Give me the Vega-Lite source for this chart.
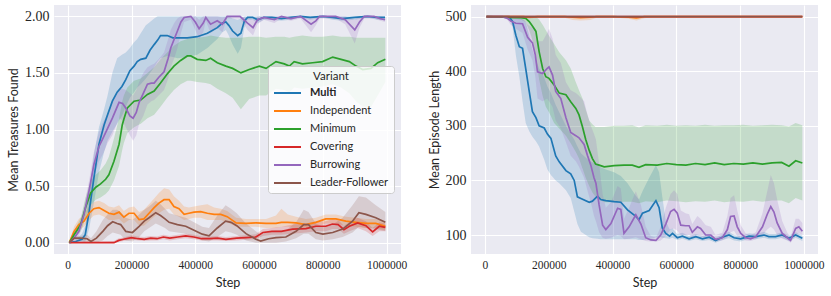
{
  "$schema": "https://vega.github.io/schema/vega-lite/v6.json",
  "background": "white",
  "padding": {"left": 7, "top": 5, "right": 2, "bottom": 4},
  "config": {
    "view": {"fill": "#EAEAF2", "stroke": null},
    "axis": {"domain": false, "ticks": false, "gridColor": "white", "gridWidth": 1.1, "labelFont": "Liberation Serif", "labelColor": "#262626", "titleFont": "Lato", "titleFontSize": 12.5, "titleFontWeight": "normal", "titleColor": "#262626", "labelPadding": 5, "labelFlush": false, "titlePadding": 4},
    "axisX": {"labelFontSize": 11.5, "titlePadding": 6},
    "axisY": {"labelFontSize": 14}
  },
  "datasets": {
    "left": [
      {"variant":"Multi","step":5000,"mean":0,"lo":0,"hi":0},
      {"variant":"Multi","step":25000,"mean":0.01,"lo":0,"hi":0.03},
      {"variant":"Multi","step":45000,"mean":0.03,"lo":0,"hi":0.08},
      {"variant":"Multi","step":55000,"mean":0.07,"lo":0.01,"hi":0.15},
      {"variant":"Multi","step":67000,"mean":0.27,"lo":0.12,"hi":0.42},
      {"variant":"Multi","step":82000,"mean":0.57,"lo":0.35,"hi":0.78},
      {"variant":"Multi","step":98000,"mean":0.87,"lo":0.62,"hi":1.02},
      {"variant":"Multi","step":114000,"mean":1.04,"lo":0.8,"hi":1.18},
      {"variant":"Multi","step":125000,"mean":1.13,"lo":0.9,"hi":1.3},
      {"variant":"Multi","step":140000,"mean":1.25,"lo":0.98,"hi":1.5},
      {"variant":"Multi","step":155000,"mean":1.33,"lo":1.05,"hi":1.63},
      {"variant":"Multi","step":170000,"mean":1.38,"lo":1.12,"hi":1.66},
      {"variant":"Multi","step":182000,"mean":1.44,"lo":1.2,"hi":1.68},
      {"variant":"Multi","step":195000,"mean":1.52,"lo":1.28,"hi":1.72},
      {"variant":"Multi","step":208000,"mean":1.56,"lo":1.33,"hi":1.77},
      {"variant":"Multi","step":218000,"mean":1.6,"lo":1.37,"hi":1.8},
      {"variant":"Multi","step":229000,"mean":1.62,"lo":1.4,"hi":1.85},
      {"variant":"Multi","step":245000,"mean":1.63,"lo":1.45,"hi":1.92},
      {"variant":"Multi","step":258000,"mean":1.7,"lo":1.5,"hi":1.95},
      {"variant":"Multi","step":271000,"mean":1.75,"lo":1.55,"hi":1.98},
      {"variant":"Multi","step":282000,"mean":1.79,"lo":1.6,"hi":2.0},
      {"variant":"Multi","step":291000,"mean":1.83,"lo":1.63,"hi":2.0},
      {"variant":"Multi","step":312000,"mean":1.83,"lo":1.65,"hi":2.0},
      {"variant":"Multi","step":330000,"mean":1.81,"lo":1.64,"hi":2.0},
      {"variant":"Multi","step":344000,"mean":1.81,"lo":1.63,"hi":2.0},
      {"variant":"Multi","step":375000,"mean":1.81,"lo":1.64,"hi":2.0},
      {"variant":"Multi","step":406000,"mean":1.82,"lo":1.66,"hi":2.0},
      {"variant":"Multi","step":438000,"mean":1.85,"lo":1.72,"hi":2.0},
      {"variant":"Multi","step":469000,"mean":1.9,"lo":1.8,"hi":2.0},
      {"variant":"Multi","step":485000,"mean":1.94,"lo":1.86,"hi":2.0},
      {"variant":"Multi","step":496000,"mean":1.95,"lo":1.88,"hi":2.0},
      {"variant":"Multi","step":505000,"mean":1.92,"lo":1.83,"hi":2.0},
      {"variant":"Multi","step":517000,"mean":1.87,"lo":1.75,"hi":1.98},
      {"variant":"Multi","step":533000,"mean":1.83,"lo":1.67,"hi":1.97},
      {"variant":"Multi","step":543000,"mean":1.85,"lo":1.72,"hi":1.98},
      {"variant":"Multi","step":554000,"mean":1.96,"lo":1.9,"hi":2.0},
      {"variant":"Multi","step":564000,"mean":1.99,"lo":1.97,"hi":2.0},
      {"variant":"Multi","step":580000,"mean":1.99,"lo":1.97,"hi":2.0},
      {"variant":"Multi","step":596000,"mean":1.97,"lo":1.94,"hi":2.0},
      {"variant":"Multi","step":615000,"mean":1.99,"lo":1.97,"hi":2.0},
      {"variant":"Multi","step":640000,"mean":1.99,"lo":1.97,"hi":2.0},
      {"variant":"Multi","step":670000,"mean":1.98,"lo":1.96,"hi":2.0},
      {"variant":"Multi","step":700000,"mean":1.99,"lo":1.97,"hi":2.0},
      {"variant":"Multi","step":730000,"mean":2.0,"lo":1.99,"hi":2.0},
      {"variant":"Multi","step":760000,"mean":1.99,"lo":1.97,"hi":2.0},
      {"variant":"Multi","step":800000,"mean":2.0,"lo":1.99,"hi":2.0},
      {"variant":"Multi","step":830000,"mean":1.99,"lo":1.97,"hi":2.0},
      {"variant":"Multi","step":860000,"mean":1.98,"lo":1.96,"hi":2.0},
      {"variant":"Multi","step":900000,"mean":1.99,"lo":1.97,"hi":2.0},
      {"variant":"Multi","step":940000,"mean":2.0,"lo":1.99,"hi":2.0},
      {"variant":"Multi","step":970000,"mean":1.99,"lo":1.97,"hi":2.0},
      {"variant":"Multi","step":995000,"mean":1.99,"lo":1.97,"hi":2.0},

      {"variant":"Independent","step":5000,"mean":0.0,"lo":0,"hi":0.01},
      {"variant":"Independent","step":20000,"mean":0.1,"lo":0.06,"hi":0.14},
      {"variant":"Independent","step":35000,"mean":0.16,"lo":0.11,"hi":0.21},
      {"variant":"Independent","step":51000,"mean":0.19,"lo":0.14,"hi":0.25},
      {"variant":"Independent","step":67000,"mean":0.26,"lo":0.2,"hi":0.32},
      {"variant":"Independent","step":82000,"mean":0.3,"lo":0.24,"hi":0.36},
      {"variant":"Independent","step":98000,"mean":0.31,"lo":0.25,"hi":0.37},
      {"variant":"Independent","step":114000,"mean":0.285,"lo":0.23,"hi":0.35},
      {"variant":"Independent","step":129000,"mean":0.26,"lo":0.2,"hi":0.32},
      {"variant":"Independent","step":145000,"mean":0.25,"lo":0.2,"hi":0.31},
      {"variant":"Independent","step":161000,"mean":0.27,"lo":0.21,"hi":0.33},
      {"variant":"Independent","step":176000,"mean":0.225,"lo":0.17,"hi":0.28},
      {"variant":"Independent","step":192000,"mean":0.26,"lo":0.2,"hi":0.31},
      {"variant":"Independent","step":208000,"mean":0.26,"lo":0.2,"hi":0.32},
      {"variant":"Independent","step":224000,"mean":0.205,"lo":0.15,"hi":0.27},
      {"variant":"Independent","step":239000,"mean":0.21,"lo":0.15,"hi":0.29},
      {"variant":"Independent","step":255000,"mean":0.26,"lo":0.19,"hi":0.34},
      {"variant":"Independent","step":271000,"mean":0.31,"lo":0.23,"hi":0.39},
      {"variant":"Independent","step":286000,"mean":0.35,"lo":0.26,"hi":0.44},
      {"variant":"Independent","step":302000,"mean":0.38,"lo":0.29,"hi":0.48},
      {"variant":"Independent","step":318000,"mean":0.38,"lo":0.3,"hi":0.47},
      {"variant":"Independent","step":333000,"mean":0.32,"lo":0.25,"hi":0.41},
      {"variant":"Independent","step":349000,"mean":0.3,"lo":0.23,"hi":0.37},
      {"variant":"Independent","step":365000,"mean":0.25,"lo":0.2,"hi":0.32},
      {"variant":"Independent","step":380000,"mean":0.26,"lo":0.21,"hi":0.31},
      {"variant":"Independent","step":396000,"mean":0.27,"lo":0.22,"hi":0.32},
      {"variant":"Independent","step":417000,"mean":0.275,"lo":0.22,"hi":0.33},
      {"variant":"Independent","step":438000,"mean":0.26,"lo":0.2,"hi":0.34},
      {"variant":"Independent","step":459000,"mean":0.25,"lo":0.2,"hi":0.31},
      {"variant":"Independent","step":480000,"mean":0.25,"lo":0.2,"hi":0.3},
      {"variant":"Independent","step":500000,"mean":0.23,"lo":0.18,"hi":0.28},
      {"variant":"Independent","step":528000,"mean":0.175,"lo":0.14,"hi":0.22},
      {"variant":"Independent","step":559000,"mean":0.17,"lo":0.14,"hi":0.21},
      {"variant":"Independent","step":590000,"mean":0.175,"lo":0.14,"hi":0.21},
      {"variant":"Independent","step":622000,"mean":0.17,"lo":0.13,"hi":0.21},
      {"variant":"Independent","step":653000,"mean":0.17,"lo":0.13,"hi":0.24},
      {"variant":"Independent","step":670000,"mean":0.18,"lo":0.14,"hi":0.3},
      {"variant":"Independent","step":690000,"mean":0.18,"lo":0.14,"hi":0.25},
      {"variant":"Independent","step":716000,"mean":0.175,"lo":0.13,"hi":0.23},
      {"variant":"Independent","step":747000,"mean":0.16,"lo":0.12,"hi":0.21},
      {"variant":"Independent","step":778000,"mean":0.18,"lo":0.14,"hi":0.22},
      {"variant":"Independent","step":809000,"mean":0.21,"lo":0.17,"hi":0.25},
      {"variant":"Independent","step":841000,"mean":0.21,"lo":0.17,"hi":0.25},
      {"variant":"Independent","step":872000,"mean":0.19,"lo":0.15,"hi":0.23},
      {"variant":"Independent","step":904000,"mean":0.18,"lo":0.14,"hi":0.22},
      {"variant":"Independent","step":935000,"mean":0.17,"lo":0.13,"hi":0.21},
      {"variant":"Independent","step":966000,"mean":0.17,"lo":0.13,"hi":0.21},
      {"variant":"Independent","step":996000,"mean":0.145,"lo":0.11,"hi":0.18},

      {"variant":"Minimum","step":5000,"mean":0,"lo":0,"hi":0},
      {"variant":"Minimum","step":20000,"mean":0.07,"lo":0.04,"hi":0.1},
      {"variant":"Minimum","step":41000,"mean":0.16,"lo":0.1,"hi":0.22},
      {"variant":"Minimum","step":56000,"mean":0.31,"lo":0.22,"hi":0.4},
      {"variant":"Minimum","step":72000,"mean":0.44,"lo":0.33,"hi":0.55},
      {"variant":"Minimum","step":88000,"mean":0.49,"lo":0.38,"hi":0.6},
      {"variant":"Minimum","step":103000,"mean":0.52,"lo":0.4,"hi":0.64},
      {"variant":"Minimum","step":119000,"mean":0.56,"lo":0.43,"hi":0.7},
      {"variant":"Minimum","step":129000,"mean":0.6,"lo":0.46,"hi":0.76},
      {"variant":"Minimum","step":145000,"mean":0.72,"lo":0.55,"hi":0.92},
      {"variant":"Minimum","step":161000,"mean":0.87,"lo":0.68,"hi":1.1},
      {"variant":"Minimum","step":171000,"mean":1.04,"lo":0.82,"hi":1.25},
      {"variant":"Minimum","step":176000,"mean":1.09,"lo":0.88,"hi":1.3},
      {"variant":"Minimum","step":187000,"mean":1.19,"lo":0.97,"hi":1.37},
      {"variant":"Minimum","step":208000,"mean":1.25,"lo":1.02,"hi":1.43},
      {"variant":"Minimum","step":229000,"mean":1.26,"lo":1.05,"hi":1.45},
      {"variant":"Minimum","step":250000,"mean":1.31,"lo":1.1,"hi":1.5},
      {"variant":"Minimum","step":271000,"mean":1.34,"lo":1.13,"hi":1.55},
      {"variant":"Minimum","step":291000,"mean":1.41,"lo":1.2,"hi":1.62},
      {"variant":"Minimum","step":312000,"mean":1.49,"lo":1.28,"hi":1.68},
      {"variant":"Minimum","step":333000,"mean":1.56,"lo":1.35,"hi":1.74},
      {"variant":"Minimum","step":354000,"mean":1.61,"lo":1.4,"hi":1.78},
      {"variant":"Minimum","step":375000,"mean":1.65,"lo":1.43,"hi":1.8},
      {"variant":"Minimum","step":386000,"mean":1.65,"lo":1.43,"hi":1.81},
      {"variant":"Minimum","step":406000,"mean":1.62,"lo":1.42,"hi":1.81},
      {"variant":"Minimum","step":433000,"mean":1.61,"lo":1.41,"hi":1.82},
      {"variant":"Minimum","step":448000,"mean":1.63,"lo":1.4,"hi":1.83},
      {"variant":"Minimum","step":469000,"mean":1.59,"lo":1.36,"hi":1.82},
      {"variant":"Minimum","step":496000,"mean":1.56,"lo":1.32,"hi":1.81},
      {"variant":"Minimum","step":517000,"mean":1.54,"lo":1.28,"hi":1.81},
      {"variant":"Minimum","step":543000,"mean":1.5,"lo":1.18,"hi":1.81},
      {"variant":"Minimum","step":569000,"mean":1.53,"lo":1.27,"hi":1.82},
      {"variant":"Minimum","step":601000,"mean":1.56,"lo":1.3,"hi":1.82},
      {"variant":"Minimum","step":622000,"mean":1.54,"lo":1.3,"hi":1.81},
      {"variant":"Minimum","step":653000,"mean":1.6,"lo":1.36,"hi":1.82},
      {"variant":"Minimum","step":679000,"mean":1.58,"lo":1.35,"hi":1.82},
      {"variant":"Minimum","step":695000,"mean":1.56,"lo":1.33,"hi":1.81},
      {"variant":"Minimum","step":710000,"mean":1.6,"lo":1.37,"hi":1.82},
      {"variant":"Minimum","step":736000,"mean":1.58,"lo":1.36,"hi":1.83},
      {"variant":"Minimum","step":768000,"mean":1.59,"lo":1.37,"hi":1.82},
      {"variant":"Minimum","step":799000,"mean":1.6,"lo":1.38,"hi":1.82},
      {"variant":"Minimum","step":831000,"mean":1.64,"lo":1.4,"hi":1.83},
      {"variant":"Minimum","step":857000,"mean":1.62,"lo":1.37,"hi":1.82},
      {"variant":"Minimum","step":883000,"mean":1.6,"lo":1.32,"hi":1.82},
      {"variant":"Minimum","step":904000,"mean":1.56,"lo":1.25,"hi":1.81},
      {"variant":"Minimum","step":925000,"mean":1.53,"lo":1.2,"hi":1.81},
      {"variant":"Minimum","step":951000,"mean":1.54,"lo":1.2,"hi":1.81},
      {"variant":"Minimum","step":972000,"mean":1.59,"lo":1.3,"hi":1.81},
      {"variant":"Minimum","step":996000,"mean":1.62,"lo":1.42,"hi":1.81},

      {"variant":"Covering","step":5000,"mean":0,"lo":0,"hi":0.01},
      {"variant":"Covering","step":50000,"mean":0,"lo":0,"hi":0.01},
      {"variant":"Covering","step":100000,"mean":0,"lo":0,"hi":0.01},
      {"variant":"Covering","step":145000,"mean":0,"lo":0,"hi":0.015},
      {"variant":"Covering","step":160000,"mean":0.02,"lo":0.005,"hi":0.04},
      {"variant":"Covering","step":175000,"mean":0.03,"lo":0.015,"hi":0.045},
      {"variant":"Covering","step":200000,"mean":0.045,"lo":0.025,"hi":0.065},
      {"variant":"Covering","step":220000,"mean":0.035,"lo":0.02,"hi":0.055},
      {"variant":"Covering","step":240000,"mean":0.03,"lo":0.015,"hi":0.05},
      {"variant":"Covering","step":260000,"mean":0.04,"lo":0.02,"hi":0.06},
      {"variant":"Covering","step":280000,"mean":0.035,"lo":0.02,"hi":0.055},
      {"variant":"Covering","step":300000,"mean":0.05,"lo":0.03,"hi":0.07},
      {"variant":"Covering","step":320000,"mean":0.04,"lo":0.02,"hi":0.06},
      {"variant":"Covering","step":345000,"mean":0.05,"lo":0.03,"hi":0.07},
      {"variant":"Covering","step":370000,"mean":0.06,"lo":0.04,"hi":0.08},
      {"variant":"Covering","step":395000,"mean":0.05,"lo":0.03,"hi":0.07},
      {"variant":"Covering","step":420000,"mean":0.035,"lo":0.02,"hi":0.055},
      {"variant":"Covering","step":445000,"mean":0.035,"lo":0.02,"hi":0.055},
      {"variant":"Covering","step":470000,"mean":0.04,"lo":0.02,"hi":0.06},
      {"variant":"Covering","step":496000,"mean":0.03,"lo":0.015,"hi":0.05},
      {"variant":"Covering","step":530000,"mean":0.04,"lo":0.02,"hi":0.06},
      {"variant":"Covering","step":559000,"mean":0.045,"lo":0.025,"hi":0.065},
      {"variant":"Covering","step":590000,"mean":0.05,"lo":0.03,"hi":0.075},
      {"variant":"Covering","step":612000,"mean":0.09,"lo":0.06,"hi":0.12},
      {"variant":"Covering","step":640000,"mean":0.1,"lo":0.07,"hi":0.13},
      {"variant":"Covering","step":670000,"mean":0.1,"lo":0.07,"hi":0.14},
      {"variant":"Covering","step":705000,"mean":0.12,"lo":0.08,"hi":0.16},
      {"variant":"Covering","step":747000,"mean":0.125,"lo":0.09,"hi":0.17},
      {"variant":"Covering","step":778000,"mean":0.145,"lo":0.1,"hi":0.19},
      {"variant":"Covering","step":809000,"mean":0.145,"lo":0.1,"hi":0.19},
      {"variant":"Covering","step":830000,"mean":0.165,"lo":0.12,"hi":0.21},
      {"variant":"Covering","step":848000,"mean":0.16,"lo":0.12,"hi":0.2},
      {"variant":"Covering","step":866000,"mean":0.115,"lo":0.08,"hi":0.15},
      {"variant":"Covering","step":883000,"mean":0.145,"lo":0.1,"hi":0.18},
      {"variant":"Covering","step":909000,"mean":0.175,"lo":0.13,"hi":0.22},
      {"variant":"Covering","step":935000,"mean":0.15,"lo":0.1,"hi":0.19},
      {"variant":"Covering","step":956000,"mean":0.095,"lo":0.06,"hi":0.13},
      {"variant":"Covering","step":977000,"mean":0.145,"lo":0.1,"hi":0.18},
      {"variant":"Covering","step":996000,"mean":0.135,"lo":0.1,"hi":0.17},

      {"variant":"Burrowing","step":5000,"mean":0,"lo":0,"hi":0},
      {"variant":"Burrowing","step":20000,"mean":0.04,"lo":0.02,"hi":0.07},
      {"variant":"Burrowing","step":35000,"mean":0.1,"lo":0.06,"hi":0.15},
      {"variant":"Burrowing","step":51000,"mean":0.25,"lo":0.18,"hi":0.32},
      {"variant":"Burrowing","step":67000,"mean":0.46,"lo":0.36,"hi":0.55},
      {"variant":"Burrowing","step":82000,"mean":0.69,"lo":0.58,"hi":0.8},
      {"variant":"Burrowing","step":98000,"mean":0.85,"lo":0.72,"hi":0.98},
      {"variant":"Burrowing","step":110000,"mean":0.92,"lo":0.78,"hi":1.06},
      {"variant":"Burrowing","step":125000,"mean":1.01,"lo":0.88,"hi":1.14},
      {"variant":"Burrowing","step":140000,"mean":1.1,"lo":0.95,"hi":1.25},
      {"variant":"Burrowing","step":161000,"mean":1.24,"lo":1.1,"hi":1.36},
      {"variant":"Burrowing","step":172000,"mean":1.23,"lo":1.08,"hi":1.36},
      {"variant":"Burrowing","step":182000,"mean":1.19,"lo":1.02,"hi":1.35},
      {"variant":"Burrowing","step":195000,"mean":1.12,"lo":0.95,"hi":1.32},
      {"variant":"Burrowing","step":205000,"mean":1.1,"lo":0.9,"hi":1.3},
      {"variant":"Burrowing","step":215000,"mean":1.15,"lo":0.95,"hi":1.35},
      {"variant":"Burrowing","step":224000,"mean":1.24,"lo":1.05,"hi":1.42},
      {"variant":"Burrowing","step":237000,"mean":1.32,"lo":1.12,"hi":1.5},
      {"variant":"Burrowing","step":250000,"mean":1.4,"lo":1.22,"hi":1.55},
      {"variant":"Burrowing","step":262000,"mean":1.41,"lo":1.25,"hi":1.57},
      {"variant":"Burrowing","step":271000,"mean":1.41,"lo":1.26,"hi":1.58},
      {"variant":"Burrowing","step":285000,"mean":1.46,"lo":1.3,"hi":1.62},
      {"variant":"Burrowing","step":302000,"mean":1.51,"lo":1.35,"hi":1.68},
      {"variant":"Burrowing","step":315000,"mean":1.63,"lo":1.45,"hi":1.8},
      {"variant":"Burrowing","step":323000,"mean":1.72,"lo":1.55,"hi":1.88},
      {"variant":"Burrowing","step":334000,"mean":1.8,"lo":1.63,"hi":1.94},
      {"variant":"Burrowing","step":344000,"mean":1.87,"lo":1.72,"hi":1.98},
      {"variant":"Burrowing","step":355000,"mean":1.95,"lo":1.85,"hi":2.0},
      {"variant":"Burrowing","step":365000,"mean":1.99,"lo":1.95,"hi":2.0},
      {"variant":"Burrowing","step":386000,"mean":2.0,"lo":1.97,"hi":2.0},
      {"variant":"Burrowing","step":400000,"mean":1.95,"lo":1.88,"hi":2.0},
      {"variant":"Burrowing","step":412000,"mean":1.89,"lo":1.8,"hi":1.97},
      {"variant":"Burrowing","step":425000,"mean":1.94,"lo":1.86,"hi":2.0},
      {"variant":"Burrowing","step":433000,"mean":1.99,"lo":1.96,"hi":2.0},
      {"variant":"Burrowing","step":448000,"mean":1.93,"lo":1.85,"hi":2.0},
      {"variant":"Burrowing","step":469000,"mean":1.96,"lo":1.9,"hi":2.0},
      {"variant":"Burrowing","step":485000,"mean":1.93,"lo":1.86,"hi":1.99},
      {"variant":"Burrowing","step":500000,"mean":2.0,"lo":1.98,"hi":2.0},
      {"variant":"Burrowing","step":540000,"mean":2.0,"lo":1.98,"hi":2.0},
      {"variant":"Burrowing","step":564000,"mean":1.94,"lo":1.88,"hi":1.99},
      {"variant":"Burrowing","step":581000,"mean":1.9,"lo":1.83,"hi":1.97},
      {"variant":"Burrowing","step":595000,"mean":1.97,"lo":1.93,"hi":2.0},
      {"variant":"Burrowing","step":615000,"mean":1.99,"lo":1.97,"hi":2.0},
      {"variant":"Burrowing","step":648000,"mean":1.97,"lo":1.94,"hi":2.0},
      {"variant":"Burrowing","step":670000,"mean":2.0,"lo":1.98,"hi":2.0},
      {"variant":"Burrowing","step":700000,"mean":1.98,"lo":1.96,"hi":2.0},
      {"variant":"Burrowing","step":730000,"mean":2.0,"lo":1.98,"hi":2.0},
      {"variant":"Burrowing","step":763000,"mean":1.93,"lo":1.86,"hi":1.99},
      {"variant":"Burrowing","step":778000,"mean":1.96,"lo":1.92,"hi":2.0},
      {"variant":"Burrowing","step":790000,"mean":2.0,"lo":1.98,"hi":2.0},
      {"variant":"Burrowing","step":840000,"mean":2.0,"lo":1.98,"hi":2.0},
      {"variant":"Burrowing","step":870000,"mean":1.97,"lo":1.93,"hi":2.0},
      {"variant":"Burrowing","step":900000,"mean":1.88,"lo":1.76,"hi":1.97},
      {"variant":"Burrowing","step":915000,"mean":1.95,"lo":1.9,"hi":2.0},
      {"variant":"Burrowing","step":930000,"mean":2.0,"lo":1.98,"hi":2.0},
      {"variant":"Burrowing","step":960000,"mean":2.0,"lo":1.98,"hi":2.0},
      {"variant":"Burrowing","step":980000,"mean":1.98,"lo":1.96,"hi":2.0},
      {"variant":"Burrowing","step":995000,"mean":1.97,"lo":1.95,"hi":1.99},

      {"variant":"Leader-Follower","step":5000,"mean":0,"lo":0,"hi":0},
      {"variant":"Leader-Follower","step":20000,"mean":0.04,"lo":0.02,"hi":0.06},
      {"variant":"Leader-Follower","step":41000,"mean":0.04,"lo":0.02,"hi":0.06},
      {"variant":"Leader-Follower","step":61000,"mean":0.035,"lo":0,"hi":0.07},
      {"variant":"Leader-Follower","step":73000,"mean":0.01,"lo":0,"hi":0.04},
      {"variant":"Leader-Follower","step":90000,"mean":0.04,"lo":0,"hi":0.1},
      {"variant":"Leader-Follower","step":110000,"mean":0.1,"lo":0.02,"hi":0.2},
      {"variant":"Leader-Follower","step":125000,"mean":0.15,"lo":0.06,"hi":0.25},
      {"variant":"Leader-Follower","step":141000,"mean":0.185,"lo":0.09,"hi":0.29},
      {"variant":"Leader-Follower","step":155000,"mean":0.17,"lo":0.08,"hi":0.29},
      {"variant":"Leader-Follower","step":166000,"mean":0.16,"lo":0.07,"hi":0.27},
      {"variant":"Leader-Follower","step":182000,"mean":0.1,"lo":0.02,"hi":0.22},
      {"variant":"Leader-Follower","step":203000,"mean":0.09,"lo":0.01,"hi":0.2},
      {"variant":"Leader-Follower","step":224000,"mean":0.145,"lo":0.05,"hi":0.25},
      {"variant":"Leader-Follower","step":240000,"mean":0.19,"lo":0.1,"hi":0.29},
      {"variant":"Leader-Follower","step":255000,"mean":0.22,"lo":0.13,"hi":0.32},
      {"variant":"Leader-Follower","step":276000,"mean":0.265,"lo":0.17,"hi":0.37},
      {"variant":"Leader-Follower","step":291000,"mean":0.24,"lo":0.15,"hi":0.34},
      {"variant":"Leader-Follower","step":305000,"mean":0.21,"lo":0.13,"hi":0.3},
      {"variant":"Leader-Follower","step":318000,"mean":0.18,"lo":0.1,"hi":0.26},
      {"variant":"Leader-Follower","step":344000,"mean":0.16,"lo":0.09,"hi":0.24},
      {"variant":"Leader-Follower","step":370000,"mean":0.145,"lo":0.08,"hi":0.22},
      {"variant":"Leader-Follower","step":396000,"mean":0.11,"lo":0.05,"hi":0.18},
      {"variant":"Leader-Follower","step":422000,"mean":0.075,"lo":0.02,"hi":0.14},
      {"variant":"Leader-Follower","step":443000,"mean":0.06,"lo":0.01,"hi":0.13},
      {"variant":"Leader-Follower","step":469000,"mean":0.13,"lo":0.05,"hi":0.24},
      {"variant":"Leader-Follower","step":495000,"mean":0.19,"lo":0.1,"hi":0.33},
      {"variant":"Leader-Follower","step":512000,"mean":0.18,"lo":0.09,"hi":0.3},
      {"variant":"Leader-Follower","step":530000,"mean":0.15,"lo":0.07,"hi":0.26},
      {"variant":"Leader-Follower","step":559000,"mean":0.08,"lo":0.02,"hi":0.17},
      {"variant":"Leader-Follower","step":590000,"mean":0.03,"lo":0,"hi":0.1},
      {"variant":"Leader-Follower","step":605000,"mean":0.015,"lo":0,"hi":0.07},
      {"variant":"Leader-Follower","step":630000,"mean":0.035,"lo":0,"hi":0.1},
      {"variant":"Leader-Follower","step":653000,"mean":0.045,"lo":0,"hi":0.11},
      {"variant":"Leader-Follower","step":684000,"mean":0.05,"lo":0.01,"hi":0.11},
      {"variant":"Leader-Follower","step":716000,"mean":0.1,"lo":0.04,"hi":0.18},
      {"variant":"Leader-Follower","step":740000,"mean":0.16,"lo":0.08,"hi":0.29},
      {"variant":"Leader-Follower","step":755000,"mean":0.16,"lo":0.08,"hi":0.27},
      {"variant":"Leader-Follower","step":778000,"mean":0.09,"lo":0.03,"hi":0.17},
      {"variant":"Leader-Follower","step":800000,"mean":0.075,"lo":0.02,"hi":0.14},
      {"variant":"Leader-Follower","step":831000,"mean":0.09,"lo":0.03,"hi":0.16},
      {"variant":"Leader-Follower","step":862000,"mean":0.12,"lo":0.05,"hi":0.22},
      {"variant":"Leader-Follower","step":893000,"mean":0.19,"lo":0.09,"hi":0.33},
      {"variant":"Leader-Follower","step":913000,"mean":0.265,"lo":0.14,"hi":0.41},
      {"variant":"Leader-Follower","step":935000,"mean":0.25,"lo":0.13,"hi":0.4},
      {"variant":"Leader-Follower","step":966000,"mean":0.22,"lo":0.12,"hi":0.33},
      {"variant":"Leader-Follower","step":996000,"mean":0.18,"lo":0.1,"hi":0.27}
    ],
    "right": [
      {"variant":"Multi","step":5000,"mean":500,"lo":500,"hi":500},
      {"variant":"Multi","step":76000,"mean":500,"lo":500,"hi":500},
      {"variant":"Multi","step":87000,"mean":491,"lo":480,"hi":500},
      {"variant":"Multi","step":97000,"mean":466,"lo":430,"hi":500},
      {"variant":"Multi","step":108000,"mean":445,"lo":390,"hi":500},
      {"variant":"Multi","step":118000,"mean":442,"lo":345,"hi":495},
      {"variant":"Multi","step":128000,"mean":405,"lo":305,"hi":490},
      {"variant":"Multi","step":139000,"mean":363,"lo":290,"hi":465},
      {"variant":"Multi","step":149000,"mean":326,"lo":280,"hi":440},
      {"variant":"Multi","step":160000,"mean":315,"lo":272,"hi":420},
      {"variant":"Multi","step":170000,"mean":300,"lo":262,"hi":405},
      {"variant":"Multi","step":186000,"mean":296,"lo":238,"hi":388},
      {"variant":"Multi","step":196000,"mean":285,"lo":220,"hi":372},
      {"variant":"Multi","step":207000,"mean":277,"lo":210,"hi":360},
      {"variant":"Multi","step":222000,"mean":245,"lo":200,"hi":338},
      {"variant":"Multi","step":233000,"mean":234,"lo":195,"hi":325},
      {"variant":"Multi","step":254000,"mean":218,"lo":182,"hi":300},
      {"variant":"Multi","step":269000,"mean":212,"lo":168,"hi":285},
      {"variant":"Multi","step":280000,"mean":200,"lo":143,"hi":275},
      {"variant":"Multi","step":290000,"mean":170,"lo":120,"hi":262},
      {"variant":"Multi","step":301000,"mean":167,"lo":106,"hi":250},
      {"variant":"Multi","step":327000,"mean":160,"lo":96,"hi":236},
      {"variant":"Multi","step":337000,"mean":162,"lo":94,"hi":233},
      {"variant":"Multi","step":353000,"mean":171,"lo":93,"hi":228},
      {"variant":"Multi","step":363000,"mean":165,"lo":92,"hi":224},
      {"variant":"Multi","step":379000,"mean":163,"lo":92,"hi":220},
      {"variant":"Multi","step":405000,"mean":161,"lo":92,"hi":215},
      {"variant":"Multi","step":426000,"mean":160,"lo":92,"hi":208},
      {"variant":"Multi","step":447000,"mean":146,"lo":92,"hi":195},
      {"variant":"Multi","step":473000,"mean":134,"lo":92,"hi":172},
      {"variant":"Multi","step":483000,"mean":128,"lo":91,"hi":165},
      {"variant":"Multi","step":494000,"mean":140,"lo":91,"hi":180},
      {"variant":"Multi","step":515000,"mean":145,"lo":92,"hi":205},
      {"variant":"Multi","step":536000,"mean":163,"lo":95,"hi":228},
      {"variant":"Multi","step":546000,"mean":150,"lo":97,"hi":215},
      {"variant":"Multi","step":556000,"mean":113,"lo":95,"hi":170},
      {"variant":"Multi","step":567000,"mean":103,"lo":94,"hi":125},
      {"variant":"Multi","step":579000,"mean":98,"lo":93,"hi":110},
      {"variant":"Multi","step":588000,"mean":103,"lo":95,"hi":112},
      {"variant":"Multi","step":603000,"mean":95,"lo":91,"hi":102},
      {"variant":"Multi","step":619000,"mean":98,"lo":93,"hi":104},
      {"variant":"Multi","step":640000,"mean":93,"lo":89,"hi":98},
      {"variant":"Multi","step":661000,"mean":97,"lo":92,"hi":102},
      {"variant":"Multi","step":682000,"mean":93,"lo":89,"hi":98},
      {"variant":"Multi","step":703000,"mean":96,"lo":91,"hi":101},
      {"variant":"Multi","step":723000,"mean":90,"lo":86,"hi":95},
      {"variant":"Multi","step":744000,"mean":96,"lo":91,"hi":101},
      {"variant":"Multi","step":765000,"mean":100,"lo":94,"hi":106},
      {"variant":"Multi","step":781000,"mean":95,"lo":90,"hi":100},
      {"variant":"Multi","step":802000,"mean":93,"lo":88,"hi":98},
      {"variant":"Multi","step":828000,"mean":98,"lo":93,"hi":103},
      {"variant":"Multi","step":849000,"mean":97,"lo":92,"hi":102},
      {"variant":"Multi","step":875000,"mean":100,"lo":95,"hi":106},
      {"variant":"Multi","step":890000,"mean":97,"lo":92,"hi":102},
      {"variant":"Multi","step":911000,"mean":97,"lo":92,"hi":102},
      {"variant":"Multi","step":932000,"mean":100,"lo":95,"hi":105},
      {"variant":"Multi","step":953000,"mean":94,"lo":89,"hi":99},
      {"variant":"Multi","step":974000,"mean":100,"lo":95,"hi":105},
      {"variant":"Multi","step":995000,"mean":94,"lo":89,"hi":99},

      {"variant":"Independent","step":5000,"mean":500,"lo":500,"hi":500},
      {"variant":"Independent","step":120000,"mean":500,"lo":499,"hi":500},
      {"variant":"Independent","step":140000,"mean":499,"lo":496,"hi":500},
      {"variant":"Independent","step":165000,"mean":500,"lo":499,"hi":500},
      {"variant":"Independent","step":250000,"mean":500,"lo":498,"hi":500},
      {"variant":"Independent","step":275000,"mean":499,"lo":494,"hi":500},
      {"variant":"Independent","step":300000,"mean":498,"lo":493,"hi":500},
      {"variant":"Independent","step":330000,"mean":499,"lo":494,"hi":500},
      {"variant":"Independent","step":350000,"mean":500,"lo":498,"hi":500},
      {"variant":"Independent","step":400000,"mean":500,"lo":499,"hi":500},
      {"variant":"Independent","step":450000,"mean":499,"lo":496,"hi":500},
      {"variant":"Independent","step":475000,"mean":498,"lo":493,"hi":500},
      {"variant":"Independent","step":500000,"mean":500,"lo":497,"hi":500},
      {"variant":"Independent","step":530000,"mean":500,"lo":500,"hi":500},
      {"variant":"Independent","step":995000,"mean":500,"lo":500,"hi":500},

      {"variant":"Minimum","step":5000,"mean":500,"lo":500,"hi":500},
      {"variant":"Minimum","step":113000,"mean":498,"lo":495,"hi":500},
      {"variant":"Minimum","step":128000,"mean":497,"lo":490,"hi":500},
      {"variant":"Minimum","step":139000,"mean":491,"lo":475,"hi":500},
      {"variant":"Minimum","step":150000,"mean":482,"lo":455,"hi":500},
      {"variant":"Minimum","step":160000,"mean":473,"lo":425,"hi":500},
      {"variant":"Minimum","step":170000,"mean":436,"lo":385,"hi":495},
      {"variant":"Minimum","step":181000,"mean":405,"lo":355,"hi":485},
      {"variant":"Minimum","step":191000,"mean":390,"lo":335,"hi":475},
      {"variant":"Minimum","step":201000,"mean":387,"lo":325,"hi":465},
      {"variant":"Minimum","step":217000,"mean":375,"lo":305,"hi":450},
      {"variant":"Minimum","step":233000,"mean":360,"lo":295,"hi":435},
      {"variant":"Minimum","step":254000,"mean":357,"lo":282,"hi":420},
      {"variant":"Minimum","step":269000,"mean":344,"lo":268,"hi":405},
      {"variant":"Minimum","step":285000,"mean":332,"lo":252,"hi":380},
      {"variant":"Minimum","step":295000,"mean":320,"lo":240,"hi":365},
      {"variant":"Minimum","step":306000,"mean":298,"lo":222,"hi":350},
      {"variant":"Minimum","step":316000,"mean":275,"lo":205,"hi":330},
      {"variant":"Minimum","step":327000,"mean":255,"lo":190,"hi":310},
      {"variant":"Minimum","step":337000,"mean":240,"lo":178,"hi":303},
      {"variant":"Minimum","step":347000,"mean":230,"lo":170,"hi":298},
      {"variant":"Minimum","step":358000,"mean":228,"lo":165,"hi":298},
      {"variant":"Minimum","step":374000,"mean":225,"lo":160,"hi":298},
      {"variant":"Minimum","step":405000,"mean":227,"lo":160,"hi":300},
      {"variant":"Minimum","step":436000,"mean":228,"lo":161,"hi":300},
      {"variant":"Minimum","step":462000,"mean":228,"lo":161,"hi":301},
      {"variant":"Minimum","step":483000,"mean":224,"lo":158,"hi":297},
      {"variant":"Minimum","step":504000,"mean":229,"lo":162,"hi":301},
      {"variant":"Minimum","step":540000,"mean":228,"lo":160,"hi":300},
      {"variant":"Minimum","step":570000,"mean":231,"lo":163,"hi":302},
      {"variant":"Minimum","step":600000,"mean":229,"lo":162,"hi":300},
      {"variant":"Minimum","step":630000,"mean":228,"lo":160,"hi":301},
      {"variant":"Minimum","step":660000,"mean":231,"lo":162,"hi":300},
      {"variant":"Minimum","step":690000,"mean":229,"lo":161,"hi":302},
      {"variant":"Minimum","step":720000,"mean":232,"lo":163,"hi":300},
      {"variant":"Minimum","step":750000,"mean":229,"lo":160,"hi":301},
      {"variant":"Minimum","step":780000,"mean":231,"lo":162,"hi":301},
      {"variant":"Minimum","step":810000,"mean":230,"lo":161,"hi":302},
      {"variant":"Minimum","step":840000,"mean":232,"lo":163,"hi":300},
      {"variant":"Minimum","step":870000,"mean":230,"lo":161,"hi":301},
      {"variant":"Minimum","step":900000,"mean":232,"lo":163,"hi":302},
      {"variant":"Minimum","step":930000,"mean":233,"lo":163,"hi":301},
      {"variant":"Minimum","step":953000,"mean":226,"lo":158,"hi":299},
      {"variant":"Minimum","step":974000,"mean":236,"lo":168,"hi":305},
      {"variant":"Minimum","step":995000,"mean":232,"lo":163,"hi":301},

      {"variant":"Covering","step":5000,"mean":500,"lo":500,"hi":500},
      {"variant":"Covering","step":250000,"mean":500,"lo":500,"hi":500},
      {"variant":"Covering","step":500000,"mean":500,"lo":500,"hi":500},
      {"variant":"Covering","step":750000,"mean":500,"lo":500,"hi":500},
      {"variant":"Covering","step":995000,"mean":500,"lo":500,"hi":500},

      {"variant":"Burrowing","step":5000,"mean":500,"lo":500,"hi":500},
      {"variant":"Burrowing","step":55000,"mean":500,"lo":499,"hi":500},
      {"variant":"Burrowing","step":71000,"mean":497,"lo":494,"hi":500},
      {"variant":"Burrowing","step":81000,"mean":492,"lo":485,"hi":500},
      {"variant":"Burrowing","step":97000,"mean":488,"lo":478,"hi":498},
      {"variant":"Burrowing","step":118000,"mean":487,"lo":470,"hi":500},
      {"variant":"Burrowing","step":134000,"mean":462,"lo":440,"hi":485},
      {"variant":"Burrowing","step":149000,"mean":452,"lo":420,"hi":480},
      {"variant":"Burrowing","step":158000,"mean":430,"lo":390,"hi":470},
      {"variant":"Burrowing","step":165000,"mean":399,"lo":350,"hi":455},
      {"variant":"Burrowing","step":181000,"mean":396,"lo":345,"hi":455},
      {"variant":"Burrowing","step":195000,"mean":405,"lo":350,"hi":470},
      {"variant":"Burrowing","step":201000,"mean":408,"lo":345,"hi":478},
      {"variant":"Burrowing","step":212000,"mean":393,"lo":335,"hi":460},
      {"variant":"Burrowing","step":222000,"mean":363,"lo":310,"hi":430},
      {"variant":"Burrowing","step":238000,"mean":350,"lo":295,"hi":415},
      {"variant":"Burrowing","step":254000,"mean":315,"lo":270,"hi":380},
      {"variant":"Burrowing","step":269000,"mean":288,"lo":245,"hi":365},
      {"variant":"Burrowing","step":285000,"mean":282,"lo":235,"hi":360},
      {"variant":"Burrowing","step":295000,"mean":278,"lo":225,"hi":355},
      {"variant":"Burrowing","step":311000,"mean":266,"lo":205,"hi":345},
      {"variant":"Burrowing","step":322000,"mean":245,"lo":180,"hi":320},
      {"variant":"Burrowing","step":332000,"mean":228,"lo":160,"hi":300},
      {"variant":"Burrowing","step":342000,"mean":205,"lo":135,"hi":285},
      {"variant":"Burrowing","step":348000,"mean":195,"lo":125,"hi":275},
      {"variant":"Burrowing","step":358000,"mean":155,"lo":105,"hi":230},
      {"variant":"Burrowing","step":369000,"mean":118,"lo":95,"hi":175},
      {"variant":"Burrowing","step":379000,"mean":110,"lo":93,"hi":150},
      {"variant":"Burrowing","step":395000,"mean":121,"lo":95,"hi":160},
      {"variant":"Burrowing","step":416000,"mean":149,"lo":100,"hi":190},
      {"variant":"Burrowing","step":426000,"mean":147,"lo":98,"hi":185},
      {"variant":"Burrowing","step":436000,"mean":103,"lo":92,"hi":130},
      {"variant":"Burrowing","step":452000,"mean":115,"lo":93,"hi":150},
      {"variant":"Burrowing","step":473000,"mean":137,"lo":96,"hi":180},
      {"variant":"Burrowing","step":489000,"mean":120,"lo":92,"hi":155},
      {"variant":"Burrowing","step":504000,"mean":95,"lo":89,"hi":115},
      {"variant":"Burrowing","step":520000,"mean":91,"lo":88,"hi":98},
      {"variant":"Burrowing","step":536000,"mean":90,"lo":88,"hi":95},
      {"variant":"Burrowing","step":551000,"mean":100,"lo":90,"hi":115},
      {"variant":"Burrowing","step":567000,"mean":120,"lo":98,"hi":150},
      {"variant":"Burrowing","step":582000,"mean":143,"lo":110,"hi":175},
      {"variant":"Burrowing","step":593000,"mean":147,"lo":112,"hi":182},
      {"variant":"Burrowing","step":603000,"mean":140,"lo":108,"hi":175},
      {"variant":"Burrowing","step":614000,"mean":118,"lo":100,"hi":145},
      {"variant":"Burrowing","step":629000,"mean":117,"lo":100,"hi":140},
      {"variant":"Burrowing","step":640000,"mean":117,"lo":100,"hi":138},
      {"variant":"Burrowing","step":650000,"mean":105,"lo":95,"hi":120},
      {"variant":"Burrowing","step":666000,"mean":115,"lo":100,"hi":135},
      {"variant":"Burrowing","step":676000,"mean":112,"lo":98,"hi":130},
      {"variant":"Burrowing","step":692000,"mean":100,"lo":93,"hi":118},
      {"variant":"Burrowing","step":708000,"mean":100,"lo":93,"hi":115},
      {"variant":"Burrowing","step":723000,"mean":92,"lo":88,"hi":100},
      {"variant":"Burrowing","step":744000,"mean":95,"lo":90,"hi":104},
      {"variant":"Burrowing","step":760000,"mean":110,"lo":96,"hi":135},
      {"variant":"Burrowing","step":770000,"mean":134,"lo":105,"hi":168},
      {"variant":"Burrowing","step":781000,"mean":135,"lo":108,"hi":173},
      {"variant":"Burrowing","step":791000,"mean":115,"lo":98,"hi":145},
      {"variant":"Burrowing","step":802000,"mean":103,"lo":94,"hi":118},
      {"variant":"Burrowing","step":817000,"mean":95,"lo":90,"hi":103},
      {"variant":"Burrowing","step":833000,"mean":93,"lo":89,"hi":100},
      {"variant":"Burrowing","step":849000,"mean":97,"lo":92,"hi":105},
      {"variant":"Burrowing","step":870000,"mean":115,"lo":100,"hi":140},
      {"variant":"Burrowing","step":885000,"mean":138,"lo":110,"hi":180},
      {"variant":"Burrowing","step":896000,"mean":152,"lo":115,"hi":210},
      {"variant":"Burrowing","step":906000,"mean":142,"lo":110,"hi":195},
      {"variant":"Burrowing","step":916000,"mean":122,"lo":100,"hi":165},
      {"variant":"Burrowing","step":932000,"mean":103,"lo":93,"hi":125},
      {"variant":"Burrowing","step":948000,"mean":95,"lo":90,"hi":104},
      {"variant":"Burrowing","step":958000,"mean":90,"lo":86,"hi":96},
      {"variant":"Burrowing","step":974000,"mean":112,"lo":100,"hi":130},
      {"variant":"Burrowing","step":984000,"mean":115,"lo":103,"hi":130},
      {"variant":"Burrowing","step":995000,"mean":107,"lo":100,"hi":122},

      {"variant":"Leader-Follower","step":5000,"mean":500,"lo":500,"hi":500},
      {"variant":"Leader-Follower","step":250000,"mean":500,"lo":500,"hi":500},
      {"variant":"Leader-Follower","step":500000,"mean":500,"lo":500,"hi":500},
      {"variant":"Leader-Follower","step":750000,"mean":500,"lo":500,"hi":500},
      {"variant":"Leader-Follower","step":995000,"mean":500,"lo":500,"hi":500}
    ]
  },
  "hconcat": [
    {
      "width": 347,
      "height": 249,
      "data": {"name": "left"},
      "encoding": {
        "x": {"field": "step", "type": "quantitative", "scale": {"domain": [-43000, 1045000], "nice": false, "zero": false}, "axis": {"title": "Step", "values": [0, 200000, 400000, 600000, 800000, 1000000], "format": "d"}}
      },
      "layer": [
        {
          "mark": {"type": "area", "fillOpacity": 0.2},
          "encoding": {
            "y": {"field": "lo", "type": "quantitative", "stack": null, "scale": {"domain": [-0.1, 2.1], "nice": false, "zero": false}, "axis": {"title": "Mean Treasures Found", "values": [0, 0.25, 0.5, 0.75, 1, 1.25, 1.5, 1.75, 2], "format": ".2f"}},
            "y2": {"field": "hi"},
            "fill": {"field": "variant", "type": "nominal", "sort": ["Multi", "Independent", "Minimum", "Covering", "Burrowing", "Leader-Follower"], "scale": {"range": ["#1f77b4", "#ff7f0e", "#2ca02c", "#d62728", "#9467bd", "#8c564b"]}, "legend": null}
          }
        },
        {
          "mark": {"type": "line", "strokeWidth": 1.7},
          "encoding": {
            "y": {"field": "mean", "type": "quantitative", "title": "Mean Treasures Found"},
            "stroke": {"field": "variant", "type": "nominal", "scale": {"domain": ["Multi", "Independent", "Minimum", "Covering", "Burrowing", "Leader-Follower"], "range": ["#1f77b4", "#ff7f0e", "#2ca02c", "#d62728", "#9467bd", "#8c564b"]},
              "legend": {"title": "Variant", "orient": "none", "legendX": 214, "legendY": 61, "symbolType": "M-1,0H5", "symbolSize": 81, "symbolStrokeWidth": 2, "fillColor": "rgba(255,255,255,0.8)", "strokeColor": "#cccccc", "cornerRadius": 3, "padding": 5, "titleAnchor": "middle", "titleFont": "Lato", "titleFontSize": 11.5, "titleFontWeight": "normal", "titleColor": "#262626", "titlePadding": 5, "labelFont": "Lato", "labelFontSize": 11, "labelColor": "#262626", "labelOffset": 26, "rowPadding": 6,
                "encode": {"labels": {"update": {"fontWeight": {"signal": "datum.label === 'Multi' ? 'bold' : 'normal'"}}}}}}
          }
        }
      ]
    },
    {
      "width": 347,
      "height": 249,
      "data": {"name": "right"},
      "encoding": {
        "x": {"field": "step", "type": "quantitative", "scale": {"domain": [-43500, 1044000], "nice": false, "zero": false}, "axis": {"title": "Step", "values": [0, 200000, 400000, 600000, 800000, 1000000], "format": "d"}}
      },
      "layer": [
        {
          "mark": {"type": "area", "fillOpacity": 0.2},
          "encoding": {
            "y": {"field": "lo", "type": "quantitative", "stack": null, "scale": {"domain": [65.2, 521.4], "nice": false, "zero": false}, "axis": {"title": "Mean Episode Length", "values": [100, 200, 300, 400, 500], "format": "d"}},
            "y2": {"field": "hi"},
            "fill": {"field": "variant", "type": "nominal", "sort": ["Multi", "Independent", "Minimum", "Covering", "Burrowing", "Leader-Follower"], "scale": {"range": ["#1f77b4", "#ff7f0e", "#2ca02c", "#d62728", "#9467bd", "#8c564b"]}, "legend": null}
          }
        },
        {
          "mark": {"type": "line", "strokeWidth": 1.7},
          "encoding": {
            "y": {"field": "mean", "type": "quantitative", "title": "Mean Episode Length"},
            "stroke": {"field": "variant", "type": "nominal", "scale": {"domain": ["Multi", "Independent", "Minimum", "Covering", "Burrowing", "Leader-Follower"], "range": ["#1f77b4", "#ff7f0e", "#2ca02c", "#d62728", "#9467bd", "#8c564b"]}, "legend": null}
          }
        }
      ]
    }
  ],
  "spacing": 70,
  "bounds": "flush",
  "resolve": {"scale": {"x": "independent", "y": "independent", "stroke": "independent", "fill": "independent"}}
}
